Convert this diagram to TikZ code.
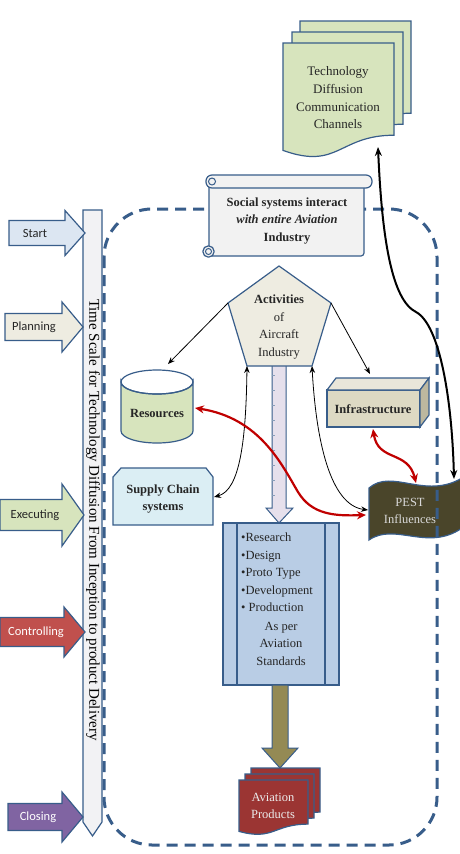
\documentclass[tikz,border=0pt]{standalone}
\usepackage{fontspec}
\setmainfont{Liberation Serif}
\newfontfamily\calib{Carlito}
\usetikzlibrary{arrows.meta}
\definecolor{bord}{HTML}{385D8A}
\definecolor{startf}{HTML}{DCE6F2}
\definecolor{planf}{HTML}{EEECE1}
\definecolor{execf}{HTML}{D7E4BD}
\definecolor{ctrlf}{HTML}{C0504D}
\definecolor{closf}{HTML}{8064A2}
\definecolor{greenf}{HTML}{D7E4BD}
\definecolor{prodf}{HTML}{9B3533}
\definecolor{pestf}{HTML}{4A452A}
\definecolor{procf}{HTML}{B9CDE5}
\definecolor{supf}{HTML}{DBEEF4}
\definecolor{inff}{HTML}{DDD9C3}
\definecolor{inftop}{HTML}{E9E6DA}
\definecolor{infside}{HTML}{BDB89F}
\definecolor{pentf}{HTML}{EEECE1}
\definecolor{lavf}{HTML}{E6E0EC}
\definecolor{olivef}{HTML}{948A54}
\definecolor{redc}{HTML}{C00000}
\definecolor{scrollf}{HTML}{F2F2F2}
\definecolor{barf}{HTML}{F2F2F4}
\newcommand\blockarr[7]{%
  \path[shapeline, fill=#7] ({#1},{#4-#5}) -- ({#2},{#4-#5}) -- ({#2},{#4-#6}) -- ({#3},{#4}) -- ({#2},{#4+#6}) -- ({#2},{#4+#5}) -- ({#1},{#4+#5}) -- cycle;}
\newcommand\docpg[5]{%
  \path[shapeline, fill=#5] ({#1},{#2}) -- ({#1+#3},{#2}) -- ({#1+#3},{#2+0.802*#4}) .. controls ({#1+0.5*#3},{#2+0.802*#4}) and ({#1+0.5*#3},{#2+1.107*#4}) .. ({#1},{#2+0.934*#4}) -- cycle;}
\begin{document}
\begin{tikzpicture}[x=1pt,y=-1pt,
  shapeline/.style={draw=bord, line width=1.2pt},
  txt/.style={font=\rmfamily\fontsize{12.5}{17.5}\selectfont, align=center, inner sep=0pt},
  btxt/.style={txt, font=\rmfamily\fontsize{12.5}{17.5}\selectfont\bfseries},
  armtext/.style={font=\calib\fontsize{12.5}{15}\selectfont, inner sep=0pt},
  thinarr/.style={black, line width=0.8pt, -{Stealth[length=7pt,width=5.5pt]}},
  thinbi/.style={black, line width=0.8pt, {Stealth[length=7pt,width=5.5pt]}-{Stealth[length=7pt,width=5.5pt]}},
  redbi/.style={redc, line width=2.2pt, {Stealth[length=9pt,width=8pt]}-{Stealth[length=9pt,width=8pt]}},
  blackbi/.style={black, line width=2pt, {Stealth[length=9pt,width=7pt]}-{Stealth[length=9pt,width=7pt]}},
  boundary/.style={draw=bord, line width=3pt, dash pattern=on 11pt off 7pt, rounded corners=48pt}
]
\useasboundingbox (0,0) rectangle (460,854);
\fill[white] (0,0) rectangle (460,854);

% time scale bar
\path[shapeline, fill=barf] (83,210) -- (102,210) -- (102,822) -- (92.5,836) -- (83,822) -- cycle;
\node[rotate=-90, font=\rmfamily\fontsize{15}{17}\selectfont, inner sep=0pt] (tsT) at (93,520) {Time Scale for Technology Diffusion From Inception to product Delivery};

% phase arrows
\blockarr{9}{65}{85}{233}{12.5}{22.5}{startf}
\node[armtext, text=black!85] (startT) at (35,233) {Start};
\blockarr{5}{62}{83}{327}{13.5}{25}{planf}
\node[armtext, text=black!85] (planT) at (34,327) {Planning};
\blockarr{0}{62}{84}{515}{15.5}{31}{execf}
\node[armtext, text=black!85] (execT) at (35,515) {Executing};
\blockarr{0}{64}{85}{632}{14.5}{25}{ctrlf}
\node[armtext, text=white] (ctrlT) at (36,632) {Controlling};
\blockarr{8}{62}{83}{817}{13.5}{25}{closf}
\node[armtext, text=white] (closT) at (38,817) {Closing};

% technology diffusion multi-document
\docpg{300}{21}{111}{115}{greenf}
\docpg{292}{32}{111}{115}{greenf}
\docpg{283}{43}{111}{115}{greenf}
\node[txt, text=black!85, font=\rmfamily\fontsize{13}{17.7}\selectfont] (tech) at (338,98) {Technology\\Diffusion\\Communication\\Channels};
\coordinate (techB) at (378,147);

% PEST wave
\path[shapeline, fill=pestf] (369,488) .. controls (392,468) and (425,500) .. (462,478) -- (462,528) .. controls (428,552) and (395,522) .. (369,540) -- cycle;
\node[txt, text=black!15] (pest) at (410,511) {PEST\\Influences};

% dashed boundary
\path[boundary] (104,209) rectangle (437,845);

% scroll
\path[shapeline, fill=scrollf, rounded corners=3pt] (209,184) rectangle (364,256);
\path[shapeline, fill=scrollf, rounded corners=6pt] (206,175) rectangle (372,188);
\draw[bord, line width=1pt] (212,181.5) circle (3.5);
\path[shapeline, fill=scrollf, rounded corners=5pt] (203,246) rectangle (214,257);
\draw[bord, line width=1pt] (208.5,251.5) circle (3);
\node[btxt, text=black!85] (social) at (287,221) {Social systems interact\\\textit{with entire Aviation}\\Industry};

% lavender arrow
\path[shapeline, line width=1pt, fill=lavf] (272,355) -- (286,355) -- (286,508) -- (293,508) -- (279,523) -- (266,508) -- (272,508) -- cycle;
\foreach \yy in {375,390,...,500} \draw[bord!60, line width=0.4pt] (272,\yy) -- (275,\yy);

% pentagon
\coordinate (pT) at (279,266);
\coordinate (pUL) at (228,303);
\coordinate (pUR) at (331,303);
\coordinate (pLL) at (247,366);
\coordinate (pLR) at (312,366);
\path[shapeline, fill=pentf] (pT) -- (pUR) -- (pLR) -- (pLL) -- (pUL) -- cycle;
\node[txt, text=black!85] (act) at (279,327) {\textbf{Activities}\\of\\Aircraft\\Industry};

% resources cylinder
\path[shapeline, fill=greenf] (121,382) -- (121,431) arc[start angle=180, end angle=0, x radius=36, y radius=12] -- (193,382) arc[start angle=0, end angle=180, x radius=36, y radius=12] -- cycle;
\draw[bord, line width=1.2pt] (157,382) ellipse [x radius=36, y radius=12];
\node[btxt, text=black!85] (res) at (157,413) {Resources};
\coordinate (resTop) at (168,364);
\coordinate (resR) at (195,408);

% infrastructure cuboid
\path[shapeline, fill=inff] (327,390) rectangle (420,427);
\path[shapeline, fill=inftop] (327,390) -- (336,378) -- (429,378) -- (420,390) -- cycle;
\path[shapeline, fill=infside] (420,390) -- (429,378) -- (429,415) -- (420,427) -- cycle;
\node[btxt, text=black!85] (inf) at (373,409) {Infrastructure};
\coordinate (infTop) at (370,374);
\coordinate (infB) at (373,429);

% supply chain
\path[shapeline, fill=supf] (113,477) -- (121,468) -- (206,468) -- (213,477) -- (213,525) -- (113,525) -- cycle;
\node[btxt, text=black!85] (sup) at (163,499) {Supply Chain\\systems};
\coordinate (supR) at (214,497);

% process box
\path[shapeline, fill=procf] (223,523) rectangle (339,685);
\draw[bord, line width=1.2pt] (237,523) -- (237,685) (325,523) -- (325,685);
\node[txt, align=left, anchor=north west, text=black!85] (procA) at (241,533) {•Research\\•Design\\•Proto Type\\•Development\\• Production};
\node[txt, anchor=north, text=black!85] (procB) at (281,622) {As per\\Aviation\\Standards};

% olive arrow
\path[shapeline, line width=1pt, fill=olivef] (272,685) -- (288,685) -- (288,748) -- (298,748) -- (280,768) -- (262,748) -- (272,748) -- cycle;

% aviation products
\docpg{251}{768}{69}{55}{prodf}
\docpg{245}{774}{69}{55}{prodf}
\docpg{239}{780}{69}{55}{prodf}
\node[txt, text=white!92!black] (prod) at (273,806) {Aviation\\Products};

% connectors
\coordinate (pestL) at (368,510);
\coordinate (pestL2) at (366,515);
\coordinate (pestT) at (416,483);
\coordinate (pestTR) at (454,479);
\coordinate (bend) at (416,312);
\draw[thinarr] (pUL) -- (resTop);
\draw[thinarr] (pUR) -- (infTop);
\draw[thinbi] (pLL) .. controls (246,440) and (240,490) .. (supR);
\draw[thinbi] (pLR) .. controls (316,440) and (330,505) .. (pestL);
\draw[redbi] (resR) .. controls (260,418) and (282,465) .. (298,492) .. controls (312,515) and (335,516) .. (pestL2);
\draw[redbi] (infB) .. controls (378,462) and (408,450) .. (pestT);
\draw[blackbi] (techB) .. controls (382,240) and (392,300) .. (bend) .. controls (440,325) and (452,400) .. (pestTR);
\end{tikzpicture}
\end{document}
